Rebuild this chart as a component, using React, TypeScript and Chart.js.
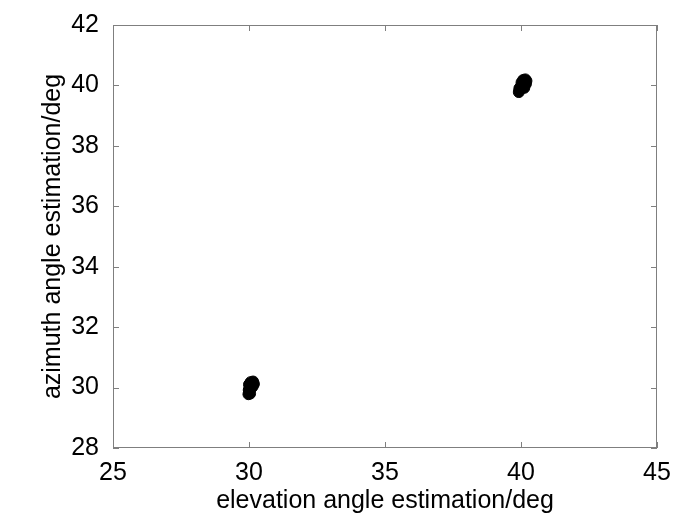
import React, { useEffect, useRef } from "react";
import { Chart, registerables } from "chart.js";

Chart.register(...registerables);

const xTicks = [25, 30, 35, 40, 45];
const yTicks = [28, 30, 32, 34, 36, 38, 40, 42];

const cluster1X = [29.98, 30.0, 30.02, 30.05, 30.08, 30.12, 30.15, 30.18, 30.1, 30.0, 30.04, 30.14, 29.99, 30.06];
const cluster1Y = [29.78, 29.85, 29.95, 30.05, 30.1, 30.15, 30.2, 30.12, 30.0, 30.1, 29.8, 30.05, 29.92, 30.18];
const cluster2X = [39.92, 39.95, 40.0, 40.05, 40.1, 40.15, 40.2, 40.18, 40.08, 39.98, 40.12, 40.02, 39.94, 40.16];
const cluster2Y = [39.78, 39.85, 39.9, 40.0, 40.05, 40.12, 40.15, 40.05, 40.18, 39.95, 39.92, 40.1, 39.9, 40.2];

const points = [
  ...cluster1X.map((x, i) => ({ x, y: cluster1Y[i] })),
  ...cluster2X.map((x, i) => ({ x, y: cluster2Y[i] })),
];

const boxTicks = {
  id: "boxTicks",
  afterDraw(chart: any) {
    const { ctx, chartArea, scales } = chart;
    const { left, right, top, bottom } = chartArea;
    ctx.save();
    ctx.strokeStyle = "#7f7f7f";
    ctx.lineWidth = 1;
    ctx.strokeRect(left + 0.5, top + 0.5, right - left - 1, bottom - top - 1);
    const len = 6;
    ctx.beginPath();
    xTicks.forEach((v) => {
      const px = Math.round(scales.x.getPixelForValue(v)) + 0.5;
      ctx.moveTo(px, bottom);
      ctx.lineTo(px, bottom - len);
      ctx.moveTo(px, top);
      ctx.lineTo(px, top + len);
    });
    yTicks.forEach((v) => {
      const py = Math.round(scales.y.getPixelForValue(v)) + 0.5;
      ctx.moveTo(left, py);
      ctx.lineTo(left + len, py);
      ctx.moveTo(right, py);
      ctx.lineTo(right - len, py);
    });
    ctx.stroke();
    ctx.restore();
  },
};

export default function App() {
  const ref = useRef<HTMLCanvasElement>(null);
  useEffect(() => {
    document.body.style.margin = "0";
    const chart = new Chart(ref.current!, {
      type: "scatter",
      data: {
        datasets: [
          {
            data: points,
            backgroundColor: "#000",
            borderColor: "#000",
            pointRadius: 5.5,
            borderWidth: 1,
          },
        ],
      },
      options: {
        animation: false,
        responsive: false,
        layout: { padding: { left: 38, right: 28, top: 25, bottom: 0 } },
        plugins: { legend: { display: false }, tooltip: { enabled: false } },
        scales: {
          x: {
            type: "linear",
            min: 25,
            max: 45,
            afterBuildTicks: (s: any) => {
              s.ticks = xTicks.map((v) => ({ value: v }));
            },
            afterFit: (s: any) => {
              s.height = 83;
            },
            grid: { display: false },
            border: { display: false },
            ticks: {
              color: "#000",
              font: { family: "Liberation Sans, Arial", size: 25 },
              padding: 2,
              maxRotation: 0,
            },
            title: {
              display: true,
              text: "elevation angle estimation/deg",
              color: "#000",
              font: { family: "Liberation Sans, Arial", size: 25 },
              padding: { top: 0, bottom: 15 },
            },
          },
          y: {
            type: "linear",
            min: 28,
            max: 42,
            afterBuildTicks: (s: any) => {
              s.ticks = yTicks.map((v) => ({ value: v }));
            },
            afterFit: (s: any) => {
              s.width = 75;
            },
            grid: { display: false },
            border: { display: false },
            ticks: {
              color: "#000",
              font: { family: "Liberation Sans, Arial", size: 25 },
              padding: 6,
            },
            title: {
              display: true,
              text: "azimuth angle estimation/deg",
              color: "#000",
              font: { family: "Liberation Sans, Arial", size: 25 },
              padding: { top: 0, bottom: 0 },
            },
          },
        },
      },
      plugins: [boxTicks],
    });
    return () => chart.destroy();
  }, []);
  return (
    <div style={{ width: 685, height: 531, background: "#fff" }}>
      <canvas ref={ref} width={685} height={531} />
    </div>
  );
}
